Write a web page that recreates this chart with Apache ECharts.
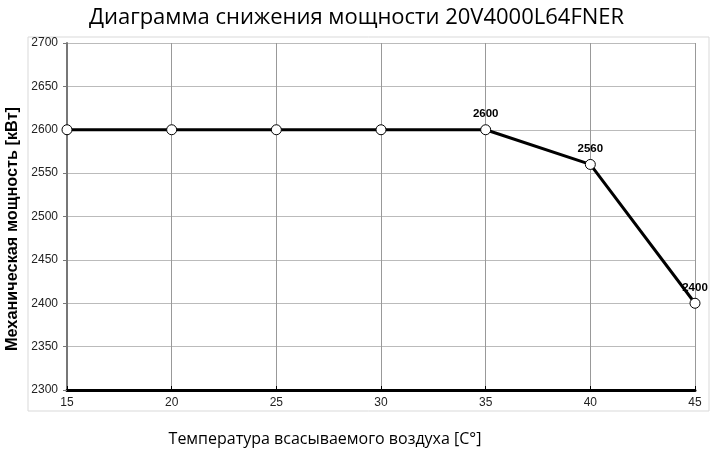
<!DOCTYPE html>
<html><head><meta charset="utf-8">
<script src="https://cdn.jsdelivr.net/npm/echarts@6/dist/echarts.min.js"></script>
<style>html,body{margin:0;padding:0;background:#fff}#c{width:713px;height:453px}</style>
</head><body><div id="c"></div>
<script>
const temps = [15, 20, 25, 30, 35, 40, 45];
const power = [2600, 2600, 2600, 2600, 2600, 2560, 2400];
const labelled = [false, false, false, false, true, true, true];
const title = 'Диаграмма снижения мощности 20V4000L64FNER';
const xName = 'Температура всасываемого воздуха [C°]';
const yName = 'Механическая мощность [кВт]';

const chart = echarts.init(document.getElementById('c'));
chart.setOption({
  animation: false,
  title: { text: title, left: 'center', top: 2,
    textStyle: { fontFamily: 'Open Sans', fontSize: 22, fontWeight: 500, color: '#000' } },
  graphic: [{ type: 'rect', shape: { x: 28, y: 37, width: 681, height: 374 },
    style: { fill: 'none', stroke: '#d9d9d9', lineWidth: 1 }, z: -10 }],
  grid: { left: 67, right: 18, top: 43, bottom: 63, outerBoundsMode: 'none', containLabel: false },
  xAxis: {
    type: 'value', min: 15, max: 45, interval: 5,
    name: xName, nameLocation: 'middle', nameGap: 41,
    nameTextStyle: { fontFamily: 'Open Sans', fontSize: 16, fontWeight: 500, color: '#000', padding: [0, 112, 0, 0] },
    axisLine: { show: true, lineStyle: { color: '#000', width: 3 } },
    axisTick: { show: true, inside: true, length: 4, lineStyle: { color: '#000' } },
    axisLabel: { fontFamily: 'Liberation Sans', fontSize: 12, color: '#222', margin: 7 },
    splitLine: { show: true, lineStyle: { color: '#999', width: 1 } }
  },
  yAxis: {
    type: 'value', min: 2300, max: 2700, interval: 50,
    name: yName, nameLocation: 'middle', nameGap: 44,
    nameTextStyle: { fontFamily: 'Liberation Sans', fontSize: 16.3, fontWeight: 'bold', color: '#000', padding: [0, 25, 0, 0] },
    axisLine: { show: true, lineStyle: { color: '#777', width: 2 } },
    axisTick: { show: true, length: 4, lineStyle: { color: '#777' } },
    axisLabel: { fontFamily: 'Liberation Sans', fontSize: 12, color: '#222', margin: 9,
      formatter: v => String(v) },
    splitLine: { show: true, lineStyle: { color: '#bbb', width: 1 } }
  },
  series: [{
    type: 'line',
    data: temps.map((t, i) => ({
      value: [t, power[i]],
      label: { show: labelled[i] }
    })),
    symbol: 'circle', symbolSize: 10,
    lineStyle: { color: '#000', width: 3 },
    itemStyle: { color: '#fff', borderColor: '#000', borderWidth: 1 },
    label: { position: 'top', distance: 4, fontFamily: 'Liberation Sans', fontSize: 11.5,
      fontWeight: 'bold', color: '#000', formatter: p => p.value[1] },
    clip: false
  }]
});
</script></body></html>
